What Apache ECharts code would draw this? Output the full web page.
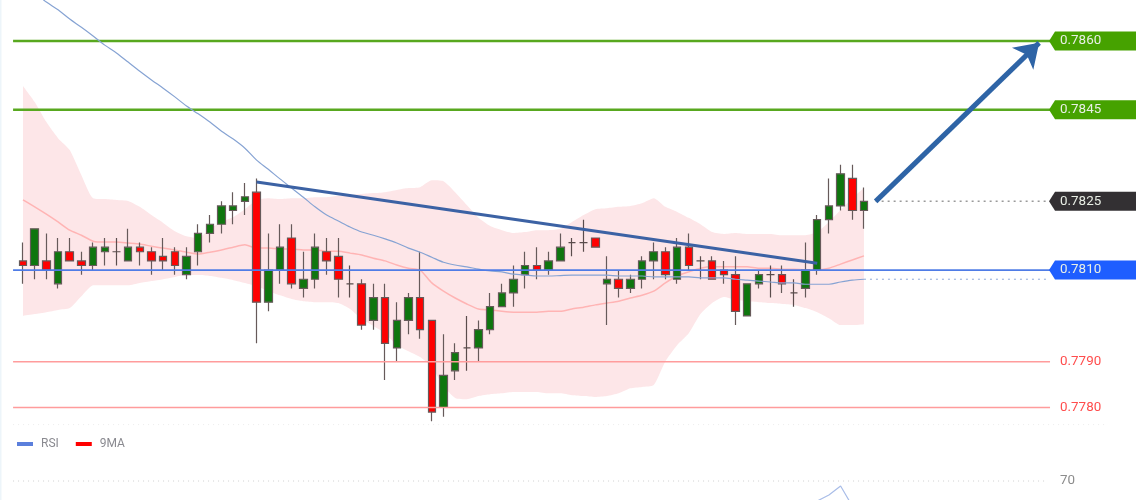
<!DOCTYPE html>
<html>
<head>
<meta charset="utf-8">
<style>html,body{margin:0;padding:0;background:#fff}#echart{width:1140px;height:500px}</style>
<script src="https://cdn.jsdelivr.net/npm/echarts@6/dist/echarts.min.js"></script>
</head>
<body>
<div id="echart"></div>
<script>
// candles, oldest first
var opens = [.7812,.7811,.7812,.7807,.7814,.7812,.7811,.7814,.7814,.7812,.7815,.7814,.7813,.7814,.7809,.7814,.7818,.7820,.7823,.7825,.7827,.7803,.7810,.7817,.7806,.7808,.7814,.7813,.7807,.7807,.7799,.7804,.7793,.7799,.7804,.7799,.7780,.7788,.7793,.7793,.7797,.7802,.7805,.7809,.7811,.7810,.7812,.7816,.7816,.7817,.7807,.7808,.7806,.7808,.7812,.7814,.7808,.7815,.7812,.7812,.7810,.7809,.7800,.7807,.7809,.7809,.7805,.7806,.7810,.7821,.7824,.7830,.7823];
var closes = [.7811,.7819,.7810,.7814,.7812,.7811,.7815,.7815,.7814,.7815,.7814,.7812,.7812,.7811,.7813,.7818,.7820,.7824,.7824,.7826,.7803,.7810,.7815,.7807,.7808,.7815,.7812,.7808,.7807,.7798,.7804,.7794,.7799,.7804,.7797,.7779,.7787,.7792,.7793,.7797,.7802,.7805,.7808,.7811,.7810,.7812,.7815,.7816,.7816,.7815,.7808,.7806,.7808,.7812,.7814,.7809,.7815,.7811,.7812,.7808,.7809,.7801,.7807,.7809,.7809,.7807,.7805,.7810,.7821,.7824,.7831,.7823,.7825];
var lows = [.7807,.7808,.7808,.7806,.7812,.7809,.7810,.7811,.7811,.7812,.7811,.7809,.7810,.7809,.7808,.7811,.7816,.7818,.7820,.7822,.7794,.7801,.7807,.7806,.7804,.7806,.7809,.7804,.7804,.7797,.7797,.7786,.7790,.7796,.7795,.7777,.7778,.7786,.7788,.7790,.7796,.7802,.7802,.7806,.7808,.7809,.7812,.7813,.7814,.7815,.7798,.7804,.7805,.7806,.7808,.7808,.7807,.7810,.7808,.7808,.7807,.7798,.7800,.7806,.7804,.7805,.7802,.7804,.7809,.7818,.7823,.7821,.7819];
var highs = [.7816,.7819,.7818,.7817,.7817,.7814,.7816,.7817,.7817,.7819,.7816,.7815,.7817,.7815,.7815,.7820,.7822,.7825,.7827,.7829,.7830,.7818,.7820,.7820,.7814,.7818,.7817,.7817,.7811,.7808,.7807,.7807,.7803,.7805,.7814,.7799,.7796,.7794,.7800,.7799,.7805,.7807,.7811,.7814,.7815,.7814,.7818,.7817,.7821,.7817,.7813,.7810,.7809,.7813,.7816,.7815,.7817,.7818,.7813,.7813,.7812,.7813,.7807,.7810,.7811,.7811,.7808,.7816,.7822,.7830,.7833,.7833,.7828];

// bands and averages
var bandUpper = [.78502,.78467,.78423,.78388,.78362,.78307,.78257,.78255,.78253,.78251,.78238,.78220,.78203,.78185,.78174,.78170,.78190,.78205,.78216,.78233,.78253,.78257,.78255,.78257,.78257,.78259,.78259,.78262,.78264,.78266,.78268,.78270,.78275,.78279,.78281,.78296,.78294,.78270,.78242,.78214,.78196,.78187,.78181,.78183,.78187,.78187,.78190,.78205,.78220,.78233,.78235,.78238,.78240,.78246,.78257,.78238,.78227,.78214,.78200,.78183,.78179,.78181,.78179,.78179,.78179,.78176,.78176,.78176,.78183,.78205,.78231,.78257,.78279];
var bandLower = [.78000,.78004,.78008,.78013,.78017,.78043,.78067,.78067,.78067,.78067,.78072,.78076,.78080,.78085,.78089,.78089,.78087,.78083,.78078,.78072,.78065,.78054,.78045,.78037,.78032,.78030,.78030,.78028,.78015,.77993,.77978,.77962,.77936,.77923,.77910,.77888,.77847,.77821,.77818,.77825,.77829,.77831,.77834,.77834,.77834,.77831,.77831,.77827,.77825,.77823,.77825,.77831,.77842,.77845,.77849,.77901,.77936,.77962,.78004,.78028,.78041,.78035,.78032,.78030,.78028,.78026,.78024,.78017,.78008,.77995,.77980,.77980,.77982];
var bandMid = [.78253,.78238,.78222,.78205,.78187,.78176,.78163,.78161,.78161,.78159,.78157,.78152,.78148,.78144,.78139,.78135,.78139,.78144,.78150,.78155,.78148,.78148,.78146,.78146,.78144,.78144,.78141,.78141,.78137,.78133,.78126,.78120,.78111,.78104,.78100,.78072,.78054,.78039,.78026,.78015,.78013,.78010,.78008,.78008,.78008,.78010,.78010,.78015,.78019,.78024,.78028,.78032,.78039,.78045,.78054,.78072,.78087,.78096,.78104,.78107,.78107,.78107,.78107,.78104,.78104,.78102,.78102,.78100,.78100,.78104,.78113,.78122,.78131];
var slowAvg = [.78722,.78705,.78685,.78668,.78648,.78630,.78611,.78591,.78574,.78554,.78534,.78515,.78497,.78478,.78458,.78441,.78423,.78403,.78386,.78366,.78340,.78320,.78299,.78279,.78259,.78238,.78220,.78207,.78194,.78183,.78176,.78168,.78159,.78148,.78139,.78128,.78117,.78111,.78107,.78102,.78098,.78096,.78091,.78089,.78087,.78087,.78088,.78089,.78089,.78089,.78089,.78087,.78087,.78087,.78085,.78085,.78085,.78085,.78083,.78083,.78083,.78080,.78078,.78076,.78074,.78072,.78072,.78069,.78069,.78069,.78074,.78078,.78080];

// rsi pane, only the tail reaches the visible part
var rsiIndex = [67,68,69,70,71,72];
var rsiValues = [55,60,63,67.5,57.5,52];

// price levels
var resistLevels = [0.7860,0.7845];
var pivotLevel = 0.7810;
var supportLevels = [0.7790,0.7780];
var lastPrice = 0.7825;
var rsiLevel = 70;

// trend line and target arrow, x in candle numbers
var trendLine = [[20,0.78292],[68,0.78115]];
var arrowLine = [[73,0.78250],[87,0.78596]];

var slotW = 11.68;
var firstX = 23;
var lineStart = -0.85, lineEnd = 87.93;
var xMin = -firstX/slotW, xMax = (1140-firstX)/slotW;
var tagFont = '13.4px Roboto, "Liberation Sans", sans-serif';

var categories = opens.map(function(v,i){return String(i);});
var candleData = opens.map(function(v,i){return [v,closes[i],lows[i],highs[i]];});
var bandWidth = bandUpper.map(function(v,i){return v-bandLower[i];});

function overlayLine(points,color,width,type,z){
  return {type:'line',xAxisIndex:1,yAxisIndex:1,data:points,showSymbol:false,silent:true,z:z,
    lineStyle:{color:color,width:width,type:type||'solid'}};
}
function levelLine(v,color,width,type,z){
  return overlayLine([[lineStart,v],[lineEnd,v]],color,width,type,z);
}
function tagSeries(v,color){
  return {type:'custom',xAxisIndex:1,yAxisIndex:1,data:[[lineEnd,v]],silent:true,z:20,
    renderItem:function(params,api){
      var p = api.coord([api.value(0),api.value(1)]);
      return {type:'group',children:[
        {type:'polygon',shape:{points:[[p[0]-1,p[1]],[p[0]+5,p[1]-9.5],[1136,p[1]-9.5],[1136,p[1]+9.5],[p[0]+5,p[1]+9.5]]},style:{fill:color}},
        {type:'text',style:{x:p[0]+10,y:p[1],text:v.toFixed(4),fill:'#e9efe6',font:tagFont,align:'left',verticalAlign:'middle'}}
      ]};
    }};
}
function plainLabel(v,color,xIdx,yIdx,text){
  return {type:'custom',xAxisIndex:xIdx,yAxisIndex:yIdx,data:[[lineEnd,v]],silent:true,z:20,clip:false,
    renderItem:function(params,api){
      var p = api.coord([api.value(0),api.value(1)]);
      return {type:'text',style:{x:p[0]+10,y:p[1],text:text,fill:color,font:tagFont,align:'left',verticalAlign:'middle'}};
    }};
}

var seriesList = [
  {type:'line',data:bandLower,stack:'band',showSymbol:false,silent:true,smooth:0.2,lineStyle:{opacity:0},z:1},
  {type:'line',data:bandWidth,stack:'band',showSymbol:false,silent:true,smooth:0.2,lineStyle:{opacity:0},areaStyle:{color:'#fde6e8',opacity:1},z:1},
  {type:'line',data:bandMid,showSymbol:false,silent:true,smooth:0.2,lineStyle:{color:'#ffb4b4',width:1.5},z:2},
  {type:'candlestick',data:candleData,barWidth:8,silent:true,z:3,
    itemStyle:{color:'#0e760e',color0:'#ff0000',borderColor:'#665a5a',borderColor0:'#665a5a',borderColorDoji:'#5a4c4c',borderWidth:1.2}},
  {type:'line',data:slowAvg,showSymbol:false,silent:true,smooth:0.3,lineStyle:{color:'#86a3d3',width:1.2},z:6},
  overlayLine([[72,0.78080],[lineEnd-0.2,0.78080]],'#8fa9d6',1,[2,4],6),
  overlayLine([[73,lastPrice],[lineEnd-0.2,lastPrice]],'#9a9a9a',1.5,[2,4],6),
  overlayLine(trendLine,'#3c62a4',3,'solid',8),
  {type:'lines',coordinateSystem:'cartesian2d',xAxisIndex:1,yAxisIndex:1,polyline:false,silent:true,z:9,
    data:[{coords:arrowLine}],symbol:['none','arrow'],symbolSize:[0,23],
    lineStyle:{color:'#2e64a6',width:5,opacity:1}},
  levelLine(pivotLevel,'#4f7ce6',1.8,'solid',7),
  levelLine(supportLevels[0],'#ff9c9c',1.5,'solid',5),
  levelLine(supportLevels[1],'#ff9c9c',1.5,'solid',5),
  levelLine(resistLevels[0],'#58a81f',2.6,'solid',5),
  levelLine(resistLevels[1],'#58a81f',2.6,'solid',5),
  tagSeries(resistLevels[0],'#46a200'),
  tagSeries(resistLevels[1],'#46a200'),
  tagSeries(lastPrice,'#333033'),
  tagSeries(pivotLevel,'#1e5eff'),
  plainLabel(supportLevels[0],'#ff4d4d',1,1,supportLevels[0].toFixed(4)),
  plainLabel(supportLevels[1],'#ff4d4d',1,1,supportLevels[1].toFixed(4)),
  plainLabel(rsiLevel,'#8c8c8c',2,2,String(rsiLevel)),
  {name:'RSI',type:'line',xAxisIndex:2,yAxisIndex:2,showSymbol:false,silent:true,
    data:rsiIndex.map(function(x,i){return [x,rsiValues[i]];}),lineStyle:{color:'#a9bde8',width:1.2},itemStyle:{color:'#5b7fdc'},z:4},
  {name:'9MA',type:'line',xAxisIndex:2,yAxisIndex:2,showSymbol:false,silent:true,data:[],itemStyle:{color:'#ff0000'}},
  {type:'line',xAxisIndex:2,yAxisIndex:2,showSymbol:false,silent:true,data:[[lineStart,rsiLevel],[lineEnd-0.25,rsiLevel]],
    lineStyle:{color:'#cfcfcf',width:1,type:[1,4]},z:3},
  {type:'line',xAxisIndex:2,yAxisIndex:2,showSymbol:false,silent:true,clip:false,data:[[lineStart,98.2],[92.6,98.2]],
    lineStyle:{color:'#ececec',width:1,type:[1,4]},z:3}
];

var myChart = echarts.init(document.getElementById('echart'));
var option = {
  animation:false,
  backgroundColor:'#ffffff',
  graphic:[{type:'rect',shape:{x:0,y:0,width:1.5,height:500},style:{fill:'#edf5fa'},silent:true}],
  legend:{
    left:12,top:433,itemWidth:16,itemHeight:4,itemGap:17,selectedMode:false,
    data:[{name:'RSI',icon:'rect',itemStyle:{color:'#5b7fdc'}},{name:'9MA',icon:'rect',itemStyle:{color:'#ff0000'}}],
    textStyle:{color:'#8a8a90',fontSize:12,fontFamily:'Roboto, sans-serif',padding:[0,0,0,3]}
  },
  grid:[
    {left:firstX-slotW/2,width:slotW*opens.length,top:0,height:424},
    {left:0,width:1140,top:0,height:424},
    {left:0,width:1140,top:424,height:76}
  ],
  xAxis:[
    {type:'category',gridIndex:0,data:categories,boundaryGap:true,show:false},
    {type:'value',gridIndex:1,min:xMin,max:xMax,show:false},
    {type:'value',gridIndex:2,min:xMin,max:xMax,show:false}
  ],
  yAxis:[
    {type:'value',gridIndex:0,min:0.77764,max:0.786895,show:false,scale:true},
    {type:'value',gridIndex:1,min:0.77764,max:0.786895,show:false,scale:true},
    {type:'value',gridIndex:2,min:60.5,max:98.5,show:false,scale:true}
  ],
  series:seriesList
};
myChart.setOption(option);
</script>
</body>
</html>
